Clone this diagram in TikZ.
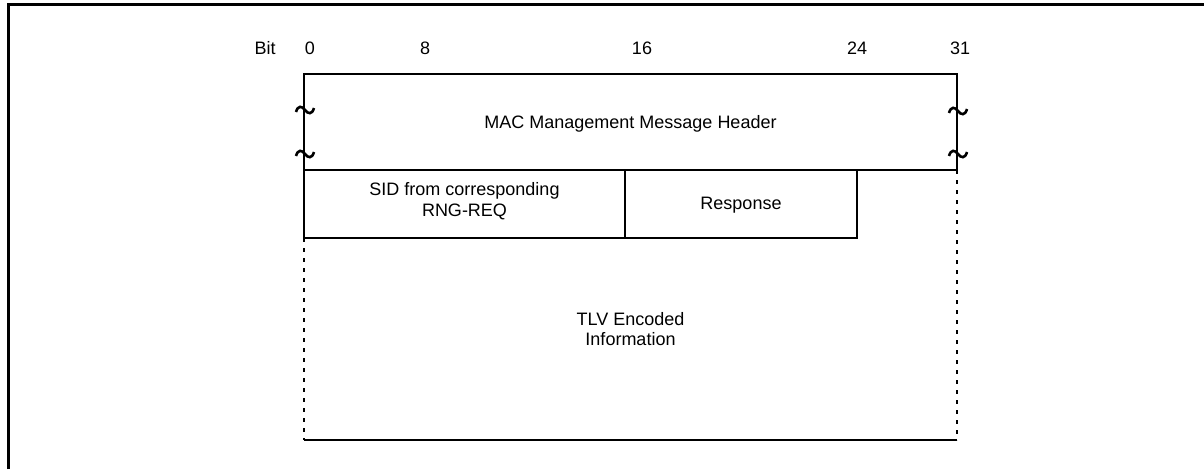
\documentclass[tikz,border=0pt]{standalone}
\usepackage{fontspec}
\setmainfont{Liberation Sans}
\begin{document}
\begin{tikzpicture}[x=1pt,y=-1pt,
  every node/.style={font=\fontsize{18}{20.5}\selectfont, inner sep=0pt, align=center},
  solidline/.style={line width=2pt},
  dotline/.style={line width=2pt, dash pattern=on 4pt off 6pt},
  framel/.style={line width=3pt},
  tildeline/.style={line width=2.6pt}]
\useasboundingbox (0,0) rectangle (1204,469);
% outer frame
\coordinate (fbl) at (8,469);
\coordinate (ftl) at (8,4);
\coordinate (ftr) at (1204,4);
\draw[framel] (fbl) -- (ftl) -- (ftr);
% corners
\coordinate (htl) at (304,74);
\coordinate (htr) at (957,74);
\coordinate (hbl) at (304,170);
\coordinate (hbr) at (957,170);
\coordinate (sbl) at (304,238);
\coordinate (smt) at (625,170);
\coordinate (smb) at (625,238);
\coordinate (rtr) at (857,170);
\coordinate (rbr) at (857,238);
\coordinate (bbl) at (304,440);
\coordinate (bbr) at (957,440);
% header box
\draw[solidline] (sbl) -- (htl) -- (htr) -- (hbr) -- (hbl);
\foreach \tx/\ty in {305/110, 305/154, 958/111, 958/154}{
  \begin{scope}[shift={(\tx,\ty)}]
    \draw[tildeline] (-9,2) .. controls (-7,-5) and (-3,-4) .. (0,0) .. controls (3,4) and (7,5) .. (9,-2);
  \end{scope}
}
% second row
\draw[solidline] (hbl) -- (sbl) -- (rbr) -- (rtr);
\draw[solidline] (smt) -- (smb);
% dotted parts
\draw[dotline] (sbl) -- (bbl);
\draw[dotline] (hbr) -- (bbr);
\draw[solidline] (bbl) -- (bbr);
% bit labels
\node[anchor=base] (bit) at (265,54) {Bit};
\node[anchor=base] (b0) at (310,54) {0};
\node[anchor=base] (b8) at (425,54) {8};
\node[anchor=base] (b16) at (642,54) {16};
\node[anchor=base] (b24) at (857,54) {24};
\node[anchor=base] (b31) at (960,54) {31};
% texts
\node (hdr) at (630.5,124) {MAC Management Message Header};
\node (sid) at (464.5,201) {SID from corresponding\\RNG-REQ};
\node (rsp) at (741,205) {Response};
\node (tlv) at (630.5,329) {TLV Encoded\\Information};
\end{tikzpicture}
\end{document}
